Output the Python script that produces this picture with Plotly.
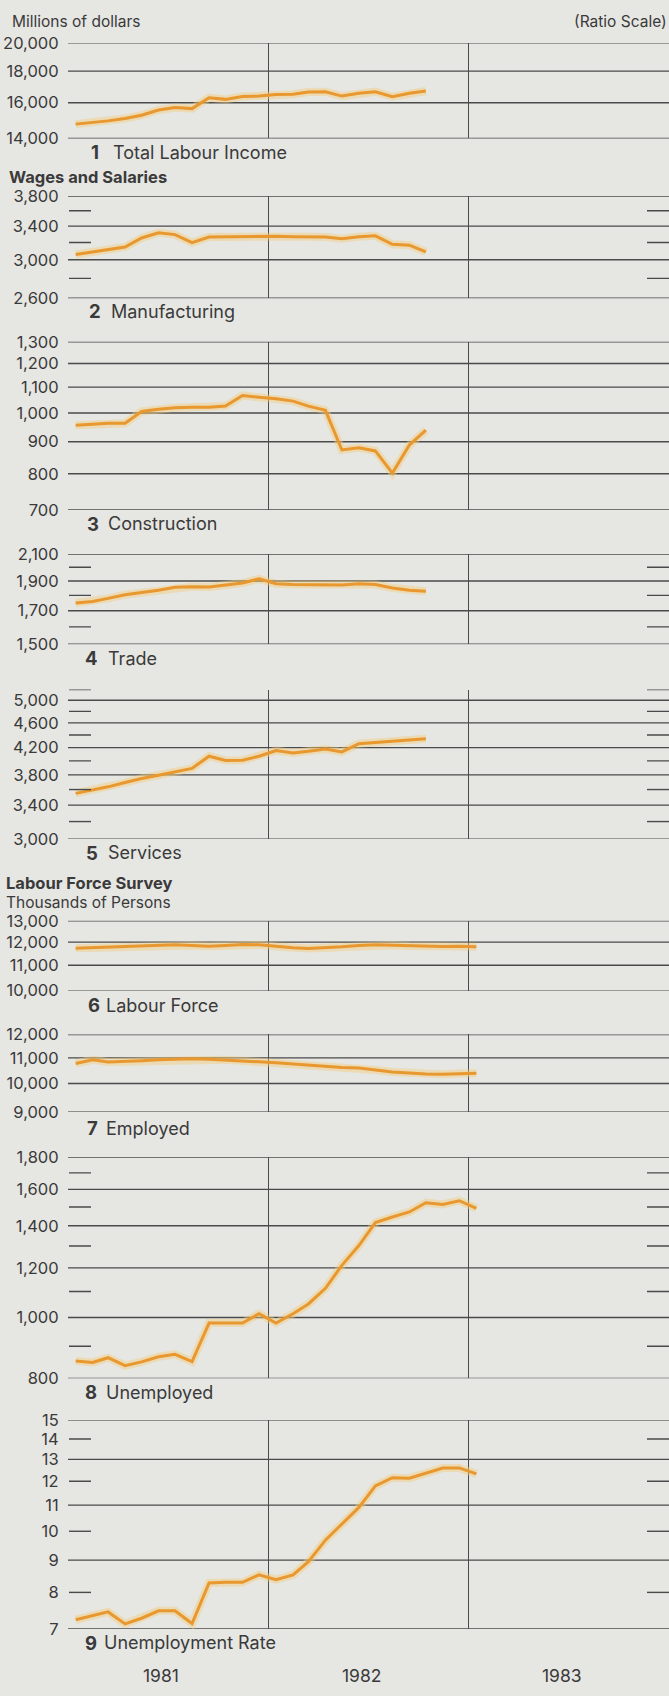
import math
import pandas as pd
import plotly.graph_objects as go

# ---------------- data ----------------
months = pd.date_range("1981-01-01", periods=25, freq="MS") + pd.Timedelta(days=14)

total_labour_income = [14770, 14860, 14950, 15080, 15270, 15570, 15710, 15650, 16300, 16200, 16370,
                       16400, 16490, 16510, 16650, 16670, 16400, 16570, 16670, 16360, 16570, 16710]
manufacturing = [3059, 3090, 3110, 3147, 3254, 3318, 3295, 3198, 3266, 3270, 3275,
                 3275, 3275, 3270, 3270, 3266, 3246, 3270, 3280, 3178, 3168, 3090]
construction = [956, 959, 963, 963, 1006, 1014, 1020, 1022, 1022, 1026, 1067,
                1060, 1054, 1045, 1026, 1010, 873, 880, 870, 802, 889, 939]
trade = [1750, 1760, 1780, 1805, 1820, 1835, 1855, 1860, 1858, 1870, 1885,
         1915, 1880, 1875, 1873, 1872, 1872, 1880, 1875, 1850, 1835, 1828]
services = [3550, 3593, 3636, 3694, 3749, 3794, 3840, 3892, 4070, 4007, 4010,
            4070, 4155, 4120, 4145, 4180, 4135, 4262, 4280, 4298, 4320, 4340]
labour_force = [11730, 11760, 11770, 11815, 11830, 11860, 11878, 11850, 11815, 11850, 11895, 11880,
                11800, 11745, 11715, 11745, 11790, 11850, 11880, 11860, 11830, 11815, 11800, 11815, 11790]
employed = [10775, 10920, 10830, 10840, 10880, 10920, 10948, 10960, 10948, 10920, 10880, 10840,
            10800, 10750, 10695, 10645, 10618, 10590, 10515, 10440, 10400, 10361, 10350, 10375, 10386]
unemployed = [853, 848, 863, 838, 850, 866, 874, 851, 980, 980, 980, 1014,
              980, 1014, 1051, 1113, 1211, 1302, 1417, 1446, 1473, 1524, 1514, 1535, 1493]
unemployment_rate = [7.24, 7.34, 7.45, 7.13, 7.28, 7.48, 7.48, 7.14, 8.28, 8.30, 8.30, 8.53,
                     8.38, 8.53, 8.95, 9.68, 10.28, 10.91, 11.80, 12.16, 12.14, 12.38, 12.60, 12.60, 12.33]

series_names = ["Total Labour Income", "Manufacturing", "Construction", "Trade", "Services",
                "Labour Force", "Employed", "Unemployed", "Unemployment Rate"]
series_values = [total_labour_income, manufacturing, construction, trade, services,
                 labour_force, employed, unemployed, unemployment_rate]

# axis ranges, gridline values, labelled ticks and short tick dashes per panel
axis_low = [14000, 2600, 700, 1500, 3000, 10000, 9000, 800, 7]
axis_high = [20000, 3800, 1300, 2100, 5200, 13000, 12000, 1800, 15]
grid_values = [
    [14000, 16000, 18000, 20000],
    [2600, 3000, 3400, 3800],
    [700, 800, 900, 1000, 1100, 1200, 1300],
    [1500, 1700, 1900, 2100],
    [3000, 3400, 3800, 4200, 4600, 5000],
    [10000, 11000, 12000, 13000],
    [9000, 10000, 11000, 12000],
    [800, 1000, 1200, 1400, 1600, 1800],
    [7, 9, 11, 13, 15],
]
label_values = [
    [14000, 16000, 18000, 20000],
    [2600, 3000, 3400, 3800],
    [700, 800, 900, 1000, 1100, 1200, 1300],
    [1500, 1700, 1900, 2100],
    [3000, 3400, 3800, 4200, 4600, 5000],
    [10000, 11000, 12000, 13000],
    [9000, 10000, 11000, 12000],
    [800, 1000, 1200, 1400, 1600, 1800],
    [7, 8, 9, 10, 11, 12, 13, 14, 15],
]
dash_values = [
    [],
    [2800, 3200, 3600],
    [],
    [1600, 1800, 2000],
    [3200, 3600, 4000, 4400, 4800, 5200],
    [],
    [],
    [900, 1100, 1300, 1500, 1700],
    [8, 10, 12, 14],
]
year_labels = ["1981", "1982", "1983"]
year_positions = ["1981-06-20", "1982-06-20", "1983-06-20"]

# ---------------- layout geometry (pixels) ----------------
W, H = 669, 1696
LEFT, RIGHT = 68, 669
panel_top_px = [33.3, 188.5, 335.7, 550.7, 687.7, 921.7, 1036.7, 1161.0, 1427.0]
panel_bot_px = [130.0, 291.7, 506.0, 641.7, 839.0, 992.3, 1115.0, 1384.7, 1638.3]
label_y_px = [144, 305, 520, 656, 853, 1007, 1131.5, 1398.5, 1652]
label_num_x = [89, 87, 85, 83, 84, 86, 85, 83, 83]
label_txt_x = [111, 109, 106, 106, 106, 104, 104, 104, 102]

BG = "#E6E6E3"
GRID = "#4a4a4a"
TXT = "#3a3a3a"
LINE = "#E8982E"
FONT = "Inter"


def py(px):
    return 1 - px / H


def px_x(px):
    return px / W


fig = go.Figure()
shapes = []
annotations = []
layout_axes = {}

for k in range(9):
    n = k + 1
    xa = "x" if n == 1 else f"x{n}"
    ya = "y" if n == 1 else f"y{n}"
    vals = series_values[k]
    xs = months[:len(vals)]
    # soft halo like the printed line
    fig.add_trace(go.Scatter(x=xs, y=vals, mode="lines", xaxis=xa, yaxis=ya,
                             line=dict(color="rgba(242,205,120,0.45)", width=8),
                             hoverinfo="skip", showlegend=False))
    fig.add_trace(go.Scatter(x=xs, y=vals, mode="lines", xaxis=xa, yaxis=ya,
                             name=series_names[k],
                             line=dict(color=LINE, width=3), showlegend=False))

    layout_axes[f"xaxis{n if n > 1 else ''}"] = dict(
        type="date", range=["1981-01-01", "1984-01-01"],
        domain=[px_x(LEFT), px_x(RIGHT)], anchor=ya,
        showgrid=True, gridcolor=GRID, gridwidth=1.4,
        tickvals=["1982-01-01", "1983-01-01"], showticklabels=False,
        ticks="", zeroline=False, showline=False, fixedrange=True,
    )
    lv = label_values[k]
    layout_axes[f"yaxis{n if n > 1 else ''}"] = dict(
        type="log", range=[math.log10(axis_low[k]), math.log10(axis_high[k])],
        domain=[py(panel_bot_px[k]), py(panel_top_px[k])], anchor=xa,
        showgrid=False, zeroline=False, showline=False,
        tickvals=lv, ticktext=[f"{v:,}" for v in lv],
        ticks="outside", ticklen=5, tickcolor="rgba(0,0,0,0)",
        tickfont=dict(family=FONT, size=16.5, color=TXT), fixedrange=True,
    )
    for g in grid_values[k]:
        shapes.append(dict(type="line", xref=f"{xa} domain", x0=0, x1=1,
                           yref=ya, y0=g, y1=g, layer="below",
                           line=dict(color=GRID, width=1.4)))
    for d in dash_values[k]:
        shapes.append(dict(type="line", xref="paper", x0=px_x(LEFT + 1), x1=px_x(LEFT + 23),
                           yref=ya, y0=d, y1=d, line=dict(color=GRID, width=1.4)))
        shapes.append(dict(type="line", xref="paper", x0=px_x(RIGHT - 22), x1=px_x(RIGHT),
                           yref=ya, y0=d, y1=d, line=dict(color=GRID, width=1.4)))

    annotations.append(dict(xref="paper", yref="paper", x=px_x(label_num_x[k]), y=py(label_y_px[k]),
                            text=f"<b>{n}</b>", showarrow=False, xanchor="left", yanchor="middle",
                            font=dict(family=FONT, size=18.5, color=TXT)))
    annotations.append(dict(xref="paper", yref="paper", x=px_x(label_txt_x[k]), y=py(label_y_px[k]),
                            text=series_names[k], showarrow=False, xanchor="left", yanchor="middle",
                            font=dict(family=FONT, size=18, color=TXT)))

# year labels under the last panel
for yl, yp in zip(year_labels, year_positions):
    annotations.append(dict(xref="x9", yref="paper", x=yp, y=py(1685), text=yl, showarrow=False,
                            xanchor="center", yanchor="middle",
                            font=dict(family=FONT, size=17.5, color=TXT)))

# headers
headers = [
    ("Millions of dollars", 10, 12, "left", False, 15.5),
    ("(Ratio Scale)", 669, 12, "right", False, 15.5),
    ("Wages and Salaries", 7, 168.5, "left", True, 16.5),
    ("Labour Force Survey", 4, 883.5, "left", True, 16.5),
    ("Thousands of Persons", 4, 903, "left", False, 15.5),
]
for txt, x, y, anc, bold, size in headers:
    annotations.append(dict(xref="paper", yref="paper", x=px_x(x), y=py(y),
                            text=f"<b>{txt}</b>" if bold else txt, showarrow=False,
                            xanchor=anc, yanchor="middle",
                            font=dict(family=FONT, size=size, color=TXT)))

fig.update_layout(
    width=W, height=H, margin=dict(l=0, r=0, t=0, b=0),
    paper_bgcolor=BG, plot_bgcolor=BG, showlegend=False,
    shapes=shapes, annotations=annotations, **layout_axes,
)

fig.write_html(
    "out.html",
    config={"displayModeBar": False},
    post_script="document.body.style.margin='0';document.body.style.overflow='hidden';"
                "document.documentElement.style.overflow='hidden';",
)
